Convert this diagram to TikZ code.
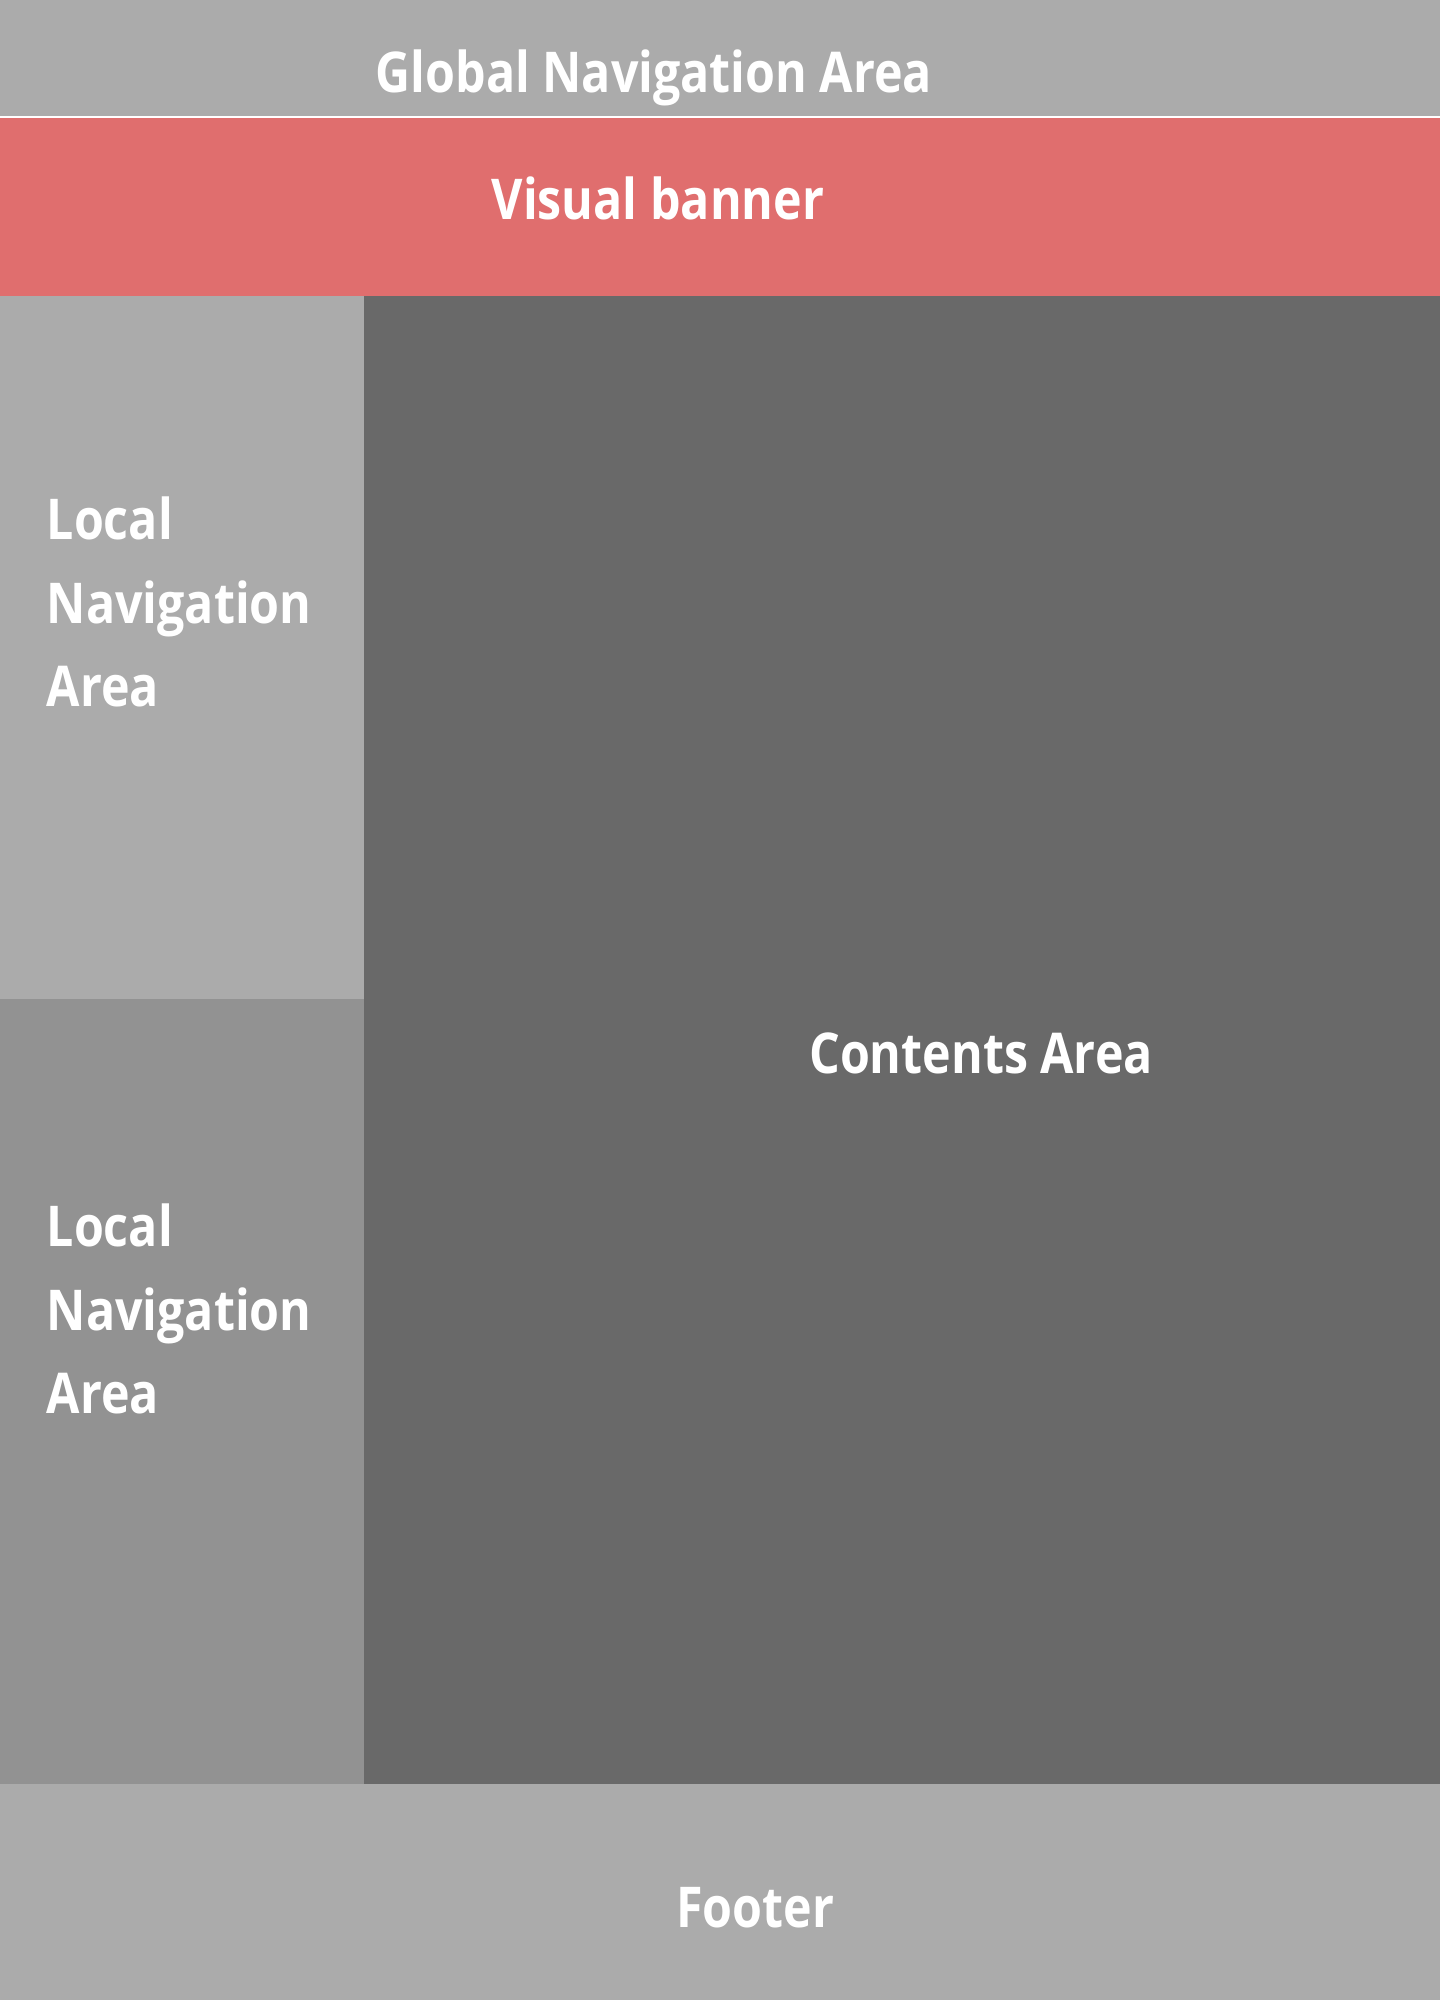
\documentclass[tikz,border=0pt]{standalone}
\usepackage{fontspec}
\newfontfamily\boxfont[FakeStretch=0.86]{Open Sans Bold}
\definecolor{navgray}{HTML}{ABABAB}
\definecolor{subgray}{HTML}{929292}
\definecolor{maingray}{HTML}{696969}
\definecolor{bannerred}{HTML}{E06E6E}
\tikzset{
    region/.style={rectangle, inner sep=0pt, outer sep=0pt},
    label/.style={text=white, inner sep=0pt, font=\boxfont\fontsize{16}{23.8}\selectfont}
}
\begin{document}
\begin{tikzpicture}
\useasboundingbox (0,0) rectangle (14.4,-20);
\fill[white] (0,0) rectangle (14.4,-20);
% blocks of the page
\node[region, fill=navgray, anchor=north west, minimum width=14.4cm, minimum height=1.16cm] (global) at (0,0) {};
\node[region, fill=bannerred, anchor=north west, minimum width=14.4cm, minimum height=1.78cm] (banner) at (0,-1.175) {};
\node[region, fill=navgray, anchor=north west, minimum width=3.64cm, minimum height=7.035cm] (localA) at (0,-2.955) {};
\node[region, fill=subgray, anchor=north west, minimum width=3.64cm, minimum height=7.85cm] (localB) at (0,-9.99) {};
\node[region, fill=maingray, anchor=north west, minimum width=10.76cm, minimum height=14.885cm] (contents) at (3.64,-2.955) {};
\node[region, fill=navgray, anchor=north west, minimum width=14.4cm, minimum height=2.16cm] (footer) at (0,-17.84) {};
% texts
\node[label, anchor=base] (globaltext) at (6.54,-0.92) {Global Navigation Area};
\node[label, anchor=base] (bannertext) at (6.58,-2.19) {Visual banner};
\node[label, anchor=base] (contentstext) at (9.81,-10.73) {Contents Area};
\node[label, anchor=base] (footertext) at (7.55,-19.27) {Footer};
\node[label, anchor=north west, align=left] (localAtext) at (0.46,-4.96) {Local\\Navigation\\Area};
\node[label, anchor=north west, align=left] (localBtext) at (0.46,-12.03) {Local\\Navigation\\Area};
\end{tikzpicture}
\end{document}
